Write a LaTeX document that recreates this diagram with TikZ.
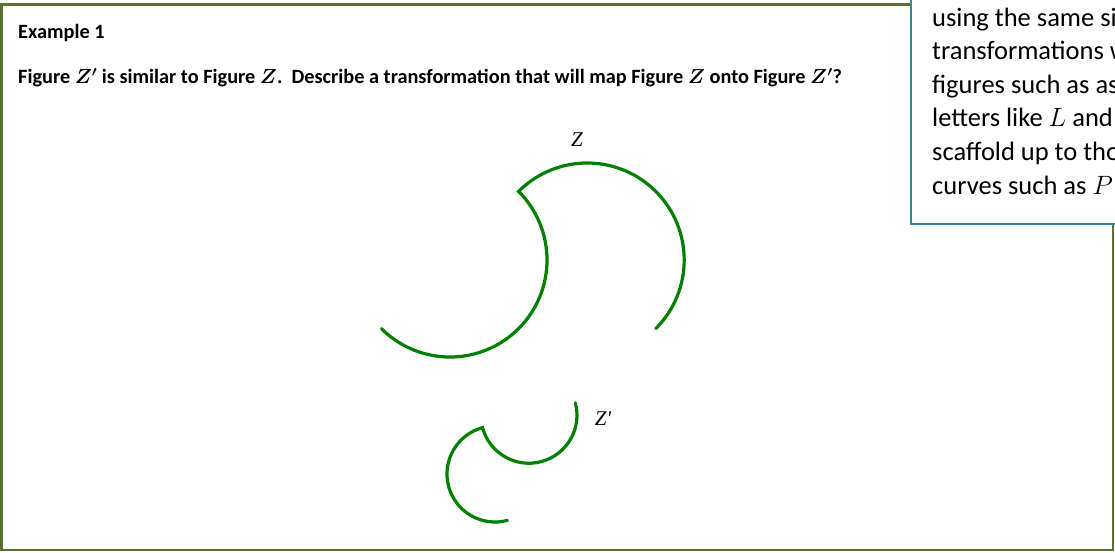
\RequirePackage{fix-cm}
\documentclass[tikz,border=0pt]{standalone}
\usepackage{amsmath}
\usepackage{fontspec}
\setmainfont{Carlito}
\newfontfamily\figlabelfont{Liberation Serif}
\usepackage{tikz}
\definecolor{framegreen}{HTML}{58712F}
\definecolor{noteblue}{HTML}{31859C}
\definecolor{arcgreen}{RGB}{0,128,0}

\begin{document}
\begin{tikzpicture}[
  x=1pt, y=1pt,
  frame/.style={draw=framegreen, line width=2.5pt},
  notebox/.style={draw=noteblue, line width=2pt, fill=white},
  arcline/.style={draw=arcgreen, line width=3.2pt, line cap=round},
  heading/.style={anchor=base west, inner sep=0pt,
                  font=\fontsize{20.3}{24}\selectfont\bfseries\boldmath},
  notetext/.style={anchor=base west, inner sep=0pt,
                   font=\fontsize{26.5}{30}\selectfont},
  figlabel/.style={inner sep=0pt, font=\fontsize{21}{24}\selectfont\figlabelfont\itshape}
]
\useasboundingbox (0,0) rectangle (1115,-552);
% outer frame of the example
\draw[frame] (1.5,-4.5) rectangle (1113,-550);
% side note, cut off by the page edge
\draw[notebox] (911,-224) rectangle (1140,20);
\foreach \txt [count=\i] in {using the same si, transformations w,
    figures such as as, letters like $L$ and, scaffold up to tho,
    curves such as $P$}
  \node[notetext] (note\i) at (932,{-26-33.6*(\i-1)}) {\txt};
% task text
\node[heading] (title) at (18,-38) {Example 1};
\node[heading] (question) at (18,-83.5) {Figure $Z'$ is similar to Figure $Z$.\ \ Describe
  a transformation that will map Figure $Z$ onto Figure $Z'$?};
% figure Z and its image Z'
\draw[arcline] (450,-260) ++(225:97) arc[start angle=225, end angle=405, radius=97]
  arc[start angle=135, end angle=-45, radius=97];
\draw[arcline] (495,-474) ++(285:48) arc[start angle=285, end angle=105, radius=48]
  arc[start angle=195, end angle=375, radius=48];
\node[figlabel] (zlab) at (577,-140) {Z};
\node[figlabel] (zplab) at (603,-419) {Z'};
\end{tikzpicture}
\end{document}
